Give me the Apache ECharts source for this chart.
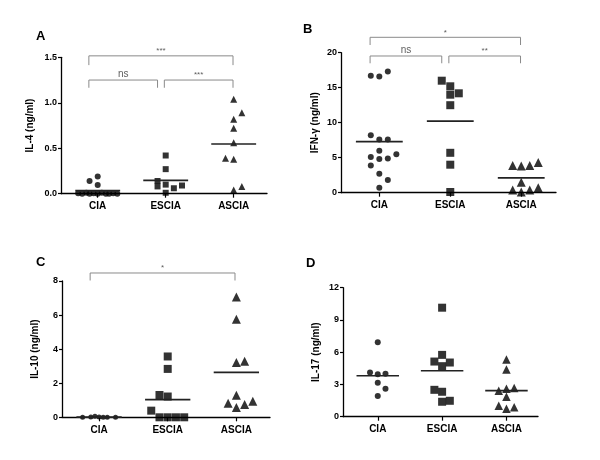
<!DOCTYPE html>
<html><head><meta charset="utf-8">
<script src="https://cdn.jsdelivr.net/npm/echarts@6/dist/echarts.min.js"></script>
<style>html,body{margin:0;padding:0;background:#fff}#c{width:600px;height:460px}</style>
</head><body><div id="c"></div>
<script>
const categories = ['CIA', 'ESCIA', 'ASCIA'];

// Panel A: IL-4 (ng/ml)
const il4Ticks = [0, 0.5, 1.0, 1.5];
const il4CIA = [0.14, 0.19, 0.095, 0.005, 0, 0.01, 0, 0.005, 0, 0.01, 0, 0, 0.005, 0];
const il4CIASlot = [-1, 0, 0, -2.4, -1.9, -1.4, -1, -0.5, 0, 0.5, 1, 1.4, 1.9, 2.4];
const il4ESCIA = [0.42, 0.27, 0.14, 0.08, 0.10, 0.06, 0.09, 0.01];
const il4ESCIASlot = [0, 0, -1, -1, 0, 1, 2, 0];
const il4ASCIA = [1.04, 0.89, 0.82, 0.72, 0.56, 0.39, 0.38, 0.08, 0.04];
const il4ASCIASlot = [0, 1, 0, 0, 0, -1, 0, 1, 0];
const il4Sig = ['***', 'ns', '***'];

// Panel B: IFN-γ (ng/ml)
const ifnTicks = [0, 5, 10, 15, 20];
const ifnCIA = [16.7, 16.6, 17.3, 8.2, 7.6, 7.6, 6.0, 5.1, 4.8, 4.9, 5.5, 3.9, 2.7, 1.8, 0.7];
const ifnCIASlot = [-1, 0, 1, -1, 0, 1, 0, -1, 0, 1, 2, -1, 0, 1, 0];
const ifnESCIA = [16.0, 15.2, 14.0, 14.2, 12.5, 5.7, 4.0, 0.1];
const ifnESCIASlot = [-1, 0, 0, 1, 0, 0, 0, 0];
const ifnASCIA = [3.9, 3.8, 3.9, 4.3, 1.5, 0.4, 0.1, 0.4, 0.7];
const ifnASCIASlot = [-1, 0, 1, 2, 0, -1, 0, 1, 2];
const ifnSig = ['*', 'ns', '**'];

// Panel C: IL-10 (ng/ml)
const il10Ticks = [0, 2, 4, 6, 8];
const il10CIA = [0, 0.02, 0.06, 0.02, 0, 0, 0];
const il10CIASlot = [-2, -1, -0.5, 0, 0.5, 1, 2];
const il10ESCIA = [3.57, 2.84, 1.31, 1.22, 0.39, 0, 0, 0, 0];
const il10ESCIASlot = [0, 0, -1, 0, -2, -1, 0, 1, 2];
const il10ASCIA = [7.06, 5.76, 3.22, 3.29, 1.29, 0.82, 0.57, 0.75, 0.94];
const il10ASCIASlot = [0, 0, 0, 1, 0, -1, 0, 1, 2];
const il10Sig = ['*'];

// Panel D: IL-17 (ng/ml)
const il17Ticks = [0, 3, 6, 9, 12];
const il17CIA = [6.93, 4.11, 3.96, 3.99, 3.15, 2.6, 1.92];
const il17CIASlot = [0, -1, 0, 1, 0, 1, 0];
const il17ESCIA = [10.14, 5.75, 5.13, 5.04, 4.7, 2.5, 2.32, 1.39, 1.48];
const il17ESCIASlot = [0, 0, -1, 1, 0, -1, 0, 0, 1];
const il17ASCIA = [5.32, 4.39, 2.41, 2.6, 2.66, 1.86, 1.02, 0.74, 0.87];
const il17ASCIASlot = [0, 0, -1, 0, 1, 0, -1, 0, 1];

const FONT = '"Liberation Sans", Arial, sans-serif';
const JIT = 0.12;        // jitter slot width in category units
const HALF = 0.33;       // half width of mean line
const symbols = ['circle', 'rect', 'triangle'];

const panels = [
  { letter: 'A', name: 'IL-4 (ng/ml)', ticks: il4Ticks, dec: 1, nameGap: 26,
    grid: { left: 61, top: 57.3, width: 206, height: 136.4 }, title: { left: 36, top: 30 },
    groups: [[il4CIA, il4CIASlot], [il4ESCIA, il4ESCIASlot], [il4ASCIA, il4ASCIASlot]],
    sizes: [6, 6, 7],
    brackets: [
      { x1: -0.13, x2: 1.99, y: 1.516, leg: 1.414, sig: il4Sig[0] },
      { x1: -0.13, x2: 0.88, y: 1.25, leg: 1.165, sig: il4Sig[1] },
      { x1: 0.98, x2: 1.99, y: 1.25, leg: 1.165, sig: il4Sig[2] }] },
  { letter: 'B', name: 'IFN-γ (ng/ml)', ticks: ifnTicks, dec: 0, nameGap: 21,
    grid: { left: 341, top: 52.7, width: 215, height: 140 }, title: { left: 303, top: 23 },
    groups: [[ifnCIA, ifnCIASlot], [ifnESCIA, ifnESCIASlot], [ifnASCIA, ifnASCIASlot]],
    sizes: [6, 8, 9],
    brackets: [
      { x1: -0.13, x2: 1.99, y: 22.2, leg: 21.1, sig: ifnSig[0] },
      { x1: -0.13, x2: 0.88, y: 19.53, leg: 18.49, sig: ifnSig[1] },
      { x1: 0.98, x2: 1.99, y: 19.53, leg: 18.49, sig: ifnSig[2] }] },
  { letter: 'C', name: 'IL-10 (ng/ml)', ticks: il10Ticks, dec: 0, nameGap: 22,
    grid: { left: 62, top: 281, width: 208, height: 136.3 }, title: { left: 36, top: 256 },
    groups: [[il10CIA, il10CIASlot], [il10ESCIA, il10ESCIASlot], [il10ASCIA, il10ASCIASlot]],
    sizes: [5, 8, 9],
    brackets: [{ x1: -0.13, x2: 1.98, y: 8.47, leg: 8.03, sig: il10Sig[0] }] },
  { letter: 'D', name: 'IL-17 (ng/ml)', ticks: il17Ticks, dec: 0, nameGap: 22,
    grid: { left: 343, top: 287.7, width: 195, height: 129 }, title: { left: 306, top: 257 },
    groups: [[il17CIA, il17CIASlot], [il17ESCIA, il17ESCIASlot], [il17ASCIA, il17ASCIASlot]],
    sizes: [6, 8, 8.5],
    brackets: [] }
];

const option = { animation: false, textStyle: { fontFamily: FONT }, title: [], grid: [], xAxis: [], yAxis: [], series: [] };

panels.forEach((p, pi) => {
  option.title.push({ text: p.letter, left: p.title.left, top: p.title.top, padding: 0,
    textStyle: { fontSize: 13, fontWeight: 'bold', color: '#000', fontFamily: FONT } });
  option.grid.push(Object.assign({ containLabel: false }, p.grid));
  const tmin = p.ticks[0], tmax = p.ticks[p.ticks.length - 1];
  option.xAxis.push({ type: 'value', gridIndex: pi, min: -0.54, max: 2.49,
    splitLine: { show: false },
    axisLine: { show: true, onZero: false, lineStyle: { color: '#000', width: 1.3 } },
    axisTick: { show: true, customValues: [0, 1, 2], length: 4, lineStyle: { color: '#000', width: 1.2 } },
    axisLabel: { customValues: [0, 1, 2], formatter: v => categories[Math.round(v)] || '',
      fontSize: 10, fontWeight: 'bold', color: '#000', margin: 8, fontFamily: FONT } });
  option.yAxis.push({ type: 'value', gridIndex: pi, min: tmin, max: tmax, interval: p.ticks[1] - p.ticks[0],
    name: p.name, nameLocation: 'middle', nameGap: p.nameGap,
    nameTextStyle: { fontSize: 10, fontWeight: 'bold', color: '#000', fontFamily: FONT },
    splitLine: { show: false },
    axisLine: { show: true, onZero: false, lineStyle: { color: '#000', width: 1.3 } },
    axisTick: { show: true, length: 3, lineStyle: { color: '#000', width: 1.2 } },
    axisLabel: { fontSize: 9, fontWeight: 'bold', color: '#000', margin: 4, fontFamily: FONT,
      formatter: v => v.toFixed(p.dec) } });

  p.groups.forEach((g, gi) => {
    const [vals, slots] = g;
    option.series.push({ type: 'scatter', xAxisIndex: pi, yAxisIndex: pi, symbol: symbols[gi],
      symbolSize: p.sizes[gi], itemStyle: { color: '#000' }, clip: false, silent: true,
      data: vals.map((v, i) => [gi + slots[i] * JIT, v]) });
    const mean = vals.reduce((a, b) => a + b, 0) / vals.length;
    option.series.push({ type: 'line', xAxisIndex: pi, yAxisIndex: pi, symbol: 'none', silent: true,
      lineStyle: { color: '#222', width: 1.7 }, z: 3,
      data: [[gi - HALF, mean], [gi + HALF, mean]] });
  });

  p.brackets.forEach(b => {
    option.series.push({ type: 'line', xAxisIndex: pi, yAxisIndex: pi, symbol: 'none', silent: true,
      clip: false, lineStyle: { color: '#8a8a8a', width: 1 },
      data: [[b.x1, b.leg], [b.x1, b.y], [b.x2, b.y], [b.x2, b.leg]] });
    const isStar = b.sig.indexOf('*') >= 0;
    option.series.push({ type: 'scatter', xAxisIndex: pi, yAxisIndex: pi, symbolSize: 0, silent: true,
      clip: false, data: [[(b.x1 + b.x2) / 2, b.y, b.sig]],
      label: { show: true, position: 'top', distance: 1,
        formatter: q => q.data[2], fontSize: isStar ? 8 : 10, color: isStar ? '#333' : '#333', fontFamily: FONT } });
  });
});

const chart = echarts.init(document.getElementById('c'), null, { renderer: 'canvas' });
chart.setOption(option);
</script>
</body></html>
